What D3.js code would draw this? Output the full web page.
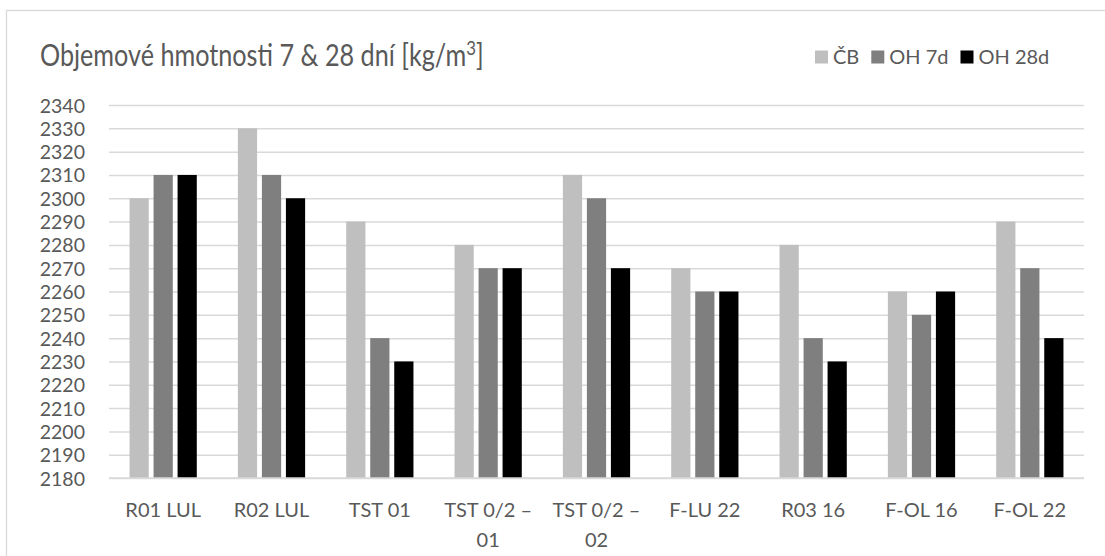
<!DOCTYPE html>
<html>
<head>
<meta charset="utf-8">
<script src="https://cdn.jsdelivr.net/npm/d3@7"></script>
<style>
  html, body { margin: 0; padding: 0; background: #ffffff; }
  svg { display: block; }
  text { font-family: Lato, "Open Sans", sans-serif; fill: #595959; }
</style>
</head>
<body>
<svg id="chart" width="1105" height="556"></svg>
<script>
// ---- data ----
const categories = [
  ["R01 LUL"], ["R02 LUL"], ["TST 01"], ["TST 0/2 –", "01"], ["TST 0/2 –", "02"],
  ["F-LU 22"], ["R03 16"], ["F-OL 16"], ["F-OL 22"]
];
const seriesNames = ["ČB", "OH 7d", "OH 28d"];
const valuesCB   = [2300, 2330, 2290, 2280, 2310, 2270, 2280, 2260, 2290];
const valuesOH7  = [2310, 2310, 2240, 2270, 2300, 2260, 2240, 2250, 2270];
const valuesOH28 = [2310, 2300, 2230, 2270, 2270, 2260, 2230, 2260, 2240];
const yTicks = [2180, 2190, 2200, 2210, 2220, 2230, 2240, 2250, 2260, 2270, 2280, 2290, 2300, 2310, 2320, 2330, 2340];
const titleText = "Objemové hmotnosti 7 & 28 dní [kg/m";
const titleSup = "3";
const titleEnd = "]";

// ---- layout ----
const colors = ["#bfbfbf", "#7f7f7f", "#000000"];
const svg = d3.select("#chart");
const plot = { left: 109, right: 1084, top: 105, bottom: 478 };

// chart border
svg.append("rect")
  .attr("x", 6.5).attr("y", 10.5)
  .attr("width", 1120).attr("height", 600)
  .attr("fill", "#ffffff")
  .attr("stroke", "#d9d9d9").attr("stroke-width", 1.3);

const x = d3.scaleBand()
  .domain(d3.range(categories.length))
  .range([plot.left, plot.right])
  .paddingInner(0.335).paddingOuter(0.1675);

const xs = d3.scaleBand()
  .domain(d3.range(seriesNames.length))
  .range([0, x.bandwidth()])
  .paddingInner(0.2).paddingOuter(0.1);

const y = d3.scaleLinear()
  .domain([d3.min(yTicks), d3.max(yTicks)])
  .range([plot.bottom, plot.top]);

// gridlines + y labels
const yAxis = d3.axisLeft(y).tickValues(yTicks).tickSize(-(plot.right - plot.left)).tickFormat(d3.format("d")).tickPadding(24);
const gy = svg.append("g").attr("transform", `translate(${plot.left},0)`).call(yAxis);
gy.select(".domain").remove();
gy.selectAll(".tick line").attr("stroke", "#d9d9d9").attr("stroke-width", 1.5);
gy.selectAll(".tick text")
  .attr("fill", "#595959")
  .attr("dy", "0.36em")
  .style("font-size", "19.5px")
  .style("font-family", "Lato, sans-serif");

// bars
const allSeries = [valuesCB, valuesOH7, valuesOH28];
allSeries.forEach((vals, si) => {
  svg.append("g").selectAll("rect")
    .data(vals)
    .join("rect")
    .attr("x", (d, i) => x(i) + xs(si))
    .attr("width", xs.bandwidth())
    .attr("y", d => y(d))
    .attr("height", d => y(y.domain()[0]) - y(d))
    .attr("fill", colors[si]);
});

// baseline axis line
svg.append("line")
  .attr("x1", plot.left).attr("x2", plot.right)
  .attr("y1", y(y.domain()[0])).attr("y2", y(y.domain()[0]))
  .attr("stroke", "#d9d9d9").attr("stroke-width", 1.5);

// x labels
const xl = svg.append("g");
categories.forEach((lines, i) => {
  const t = xl.append("text")
    .attr("text-anchor", "middle")
    .style("font-size", "20px");
  lines.forEach((ln, li) => {
    t.append("tspan")
      .attr("x", x(i) + x.bandwidth() / 2)
      .attr("y", 517 + li * 30)
      .text(ln);
  });
});

// title
const title = svg.append("text")
  .attr("x", 0).attr("y", 0)
  .style("font-size", "30px");
title.append("tspan").text(titleText);
title.append("tspan").attr("dy", -11).style("font-size", "20px").text(titleSup);
title.append("tspan").attr("dy", 11).text(titleEnd);
const tw = title.node().getBBox().width;
const sx = Math.min(1, 444 / tw);
title.attr("transform", `translate(40,66) scale(${sx},1)`);

// legend
const legend = svg.append("g");
let lx = 815;
seriesNames.forEach((name, i) => {
  legend.append("rect")
    .attr("x", lx).attr("y", 50.5)
    .attr("width", 13).attr("height", 13)
    .attr("fill", colors[i]);
  const t = legend.append("text")
    .attr("x", lx + 18).attr("y", 64)
    .style("font-size", "20px")
    .text(name);
  lx += 18 + t.node().getComputedTextLength() + 12;
});
</script>
</body>
</html>
